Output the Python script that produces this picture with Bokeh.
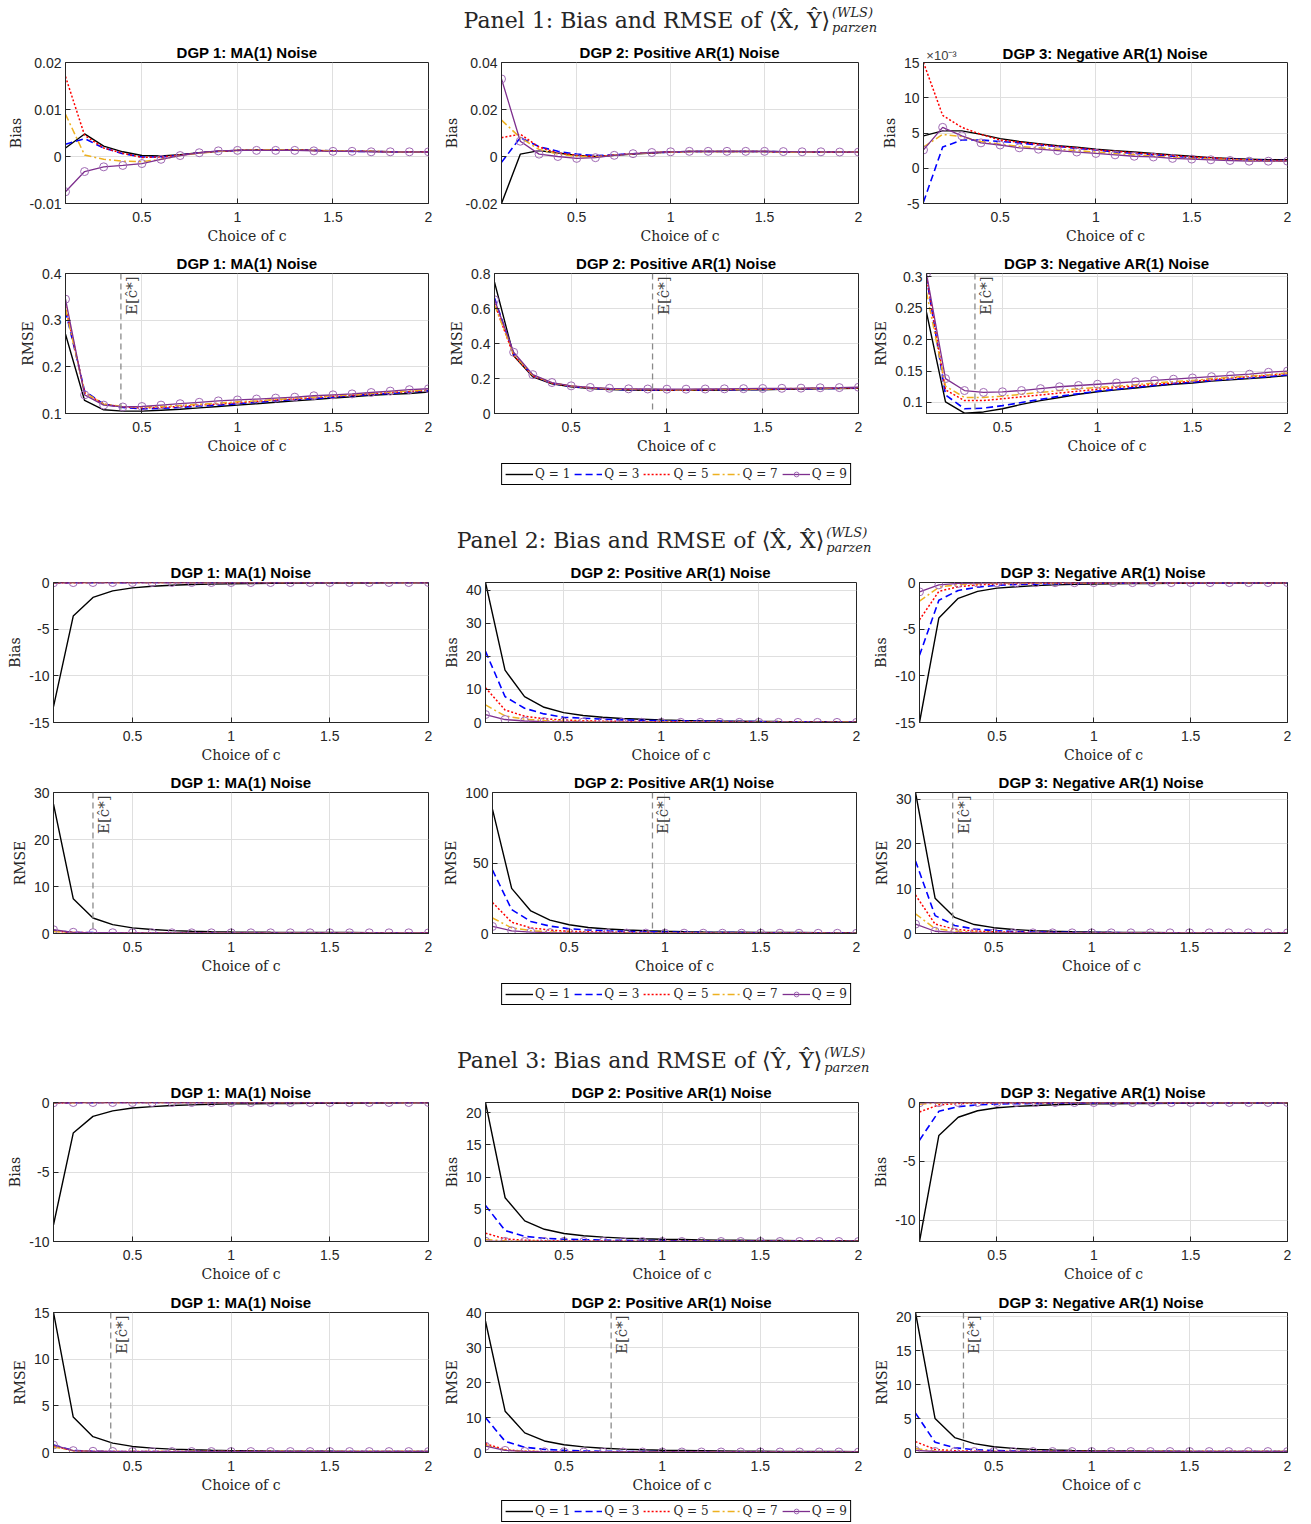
from math import pi
from bokeh.plotting import figure
from bokeh.layouts import column, row
from bokeh.models import (Range1d, FixedTicker, CustomJSTickFormatter, Span, Label,
                          Legend, LegendItem, LinearAxis)
from bokeh.embed import file_html
from bokeh.resources import INLINE

# ---------------- data ----------------
C = [0.1, 0.2, 0.3, 0.4, 0.5, 0.6, 0.7, 0.8, 0.9, 1.0,
     1.1, 1.2, 1.3, 1.4, 1.5, 1.6, 1.7, 1.8, 1.9, 2.0]
Q_LABELS = ["Q = 1", "Q = 3", "Q = 5", "Q = 7", "Q = 9"]
DGP_TITLES = ["DGP 1: MA(1) Noise", "DGP 2: Positive AR(1) Noise", "DGP 3: Negative AR(1) Noise"]

# Panel 1: <X,Y>
p1_bias_d1_q1 = [0.0018, 0.0048, 0.0022, 0.0010, 0.0002, 0.0001, 0.0004, 0.0008, 0.0011, 0.0013, 0.0014, 0.0014, 0.0014, 0.0013, 0.0012, 0.0011, 0.0011, 0.0010, 0.0010, 0.0010]
p1_bias_d1_q3 = [0.0026, 0.0038, 0.0018, 0.0006, -0.0001, -0.0001, 0.0003, 0.0008, 0.0011, 0.0013, 0.0014, 0.0014, 0.0014, 0.0013, 0.0012, 0.0011, 0.0011, 0.0010, 0.0010, 0.0010]
p1_bias_d1_q5 = [0.0170, 0.0045, 0.0018, 0.0007, -0.0002, -0.0001, 0.0003, 0.0008, 0.0011, 0.0013, 0.0014, 0.0014, 0.0014, 0.0013, 0.0012, 0.0011, 0.0011, 0.0010, 0.0010, 0.0010]
p1_bias_d1_q7 = [0.0090, 0.0003, -0.0006, -0.0010, -0.0011, -0.0006, 0.0002, 0.0007, 0.0011, 0.0013, 0.0014, 0.0014, 0.0014, 0.0013, 0.0012, 0.0011, 0.0011, 0.0010, 0.0010, 0.0010]
p1_bias_d1_q9 = [-0.0075, -0.0032, -0.0022, -0.0019, -0.0015, -0.0006, 0.0002, 0.0008, 0.0012, 0.0013, 0.0013, 0.0013, 0.0013, 0.0012, 0.0011, 0.0011, 0.0010, 0.0010, 0.0010, 0.0010]

p1_bias_d2_q1 = [-0.0200, 0.0010, 0.0025, 0.0015, 0.0005, 0.0000, 0.0005, 0.0010, 0.0015, 0.0019, 0.0021, 0.0021, 0.0021, 0.0021, 0.0021, 0.0020, 0.0019, 0.0019, 0.0018, 0.0018]
p1_bias_d2_q3 = [-0.0025, 0.0080, 0.0042, 0.0022, 0.0010, 0.0004, 0.0007, 0.0012, 0.0016, 0.0019, 0.0021, 0.0021, 0.0021, 0.0021, 0.0021, 0.0020, 0.0019, 0.0019, 0.0018, 0.0018]
p1_bias_d2_q5 = [0.0080, 0.0095, 0.0040, 0.0015, 0.0005, 0.0000, 0.0006, 0.0012, 0.0016, 0.0019, 0.0021, 0.0021, 0.0021, 0.0021, 0.0021, 0.0020, 0.0019, 0.0019, 0.0018, 0.0018]
p1_bias_d2_q7 = [0.0155, 0.0080, 0.0030, 0.0010, 0.0000, -0.0002, 0.0005, 0.0011, 0.0016, 0.0019, 0.0021, 0.0021, 0.0021, 0.0021, 0.0021, 0.0020, 0.0019, 0.0019, 0.0018, 0.0018]
p1_bias_d2_q9 = [0.0330, 0.0065, 0.0010, 0.0000, -0.0008, -0.0005, 0.0005, 0.0012, 0.0017, 0.0020, 0.0022, 0.0022, 0.0022, 0.0022, 0.0022, 0.0021, 0.0020, 0.0020, 0.0019, 0.0019]

p1_bias_d3_q1 = [0.0046, 0.0053, 0.0053, 0.0048, 0.0042, 0.0038, 0.0035, 0.0032, 0.0030, 0.0027, 0.0025, 0.0023, 0.0021, 0.0019, 0.0017, 0.0015, 0.0014, 0.0013, 0.0012, 0.0012]
p1_bias_d3_q3 = [-0.0048, 0.0030, 0.0040, 0.0040, 0.0038, 0.0036, 0.0033, 0.0031, 0.0028, 0.0026, 0.0023, 0.0021, 0.0019, 0.0017, 0.0015, 0.0014, 0.0013, 0.0012, 0.0011, 0.0011]
p1_bias_d3_q5 = [0.0150, 0.0075, 0.0058, 0.0048, 0.0040, 0.0037, 0.0034, 0.0031, 0.0029, 0.0026, 0.0024, 0.0022, 0.0020, 0.0018, 0.0016, 0.0015, 0.0013, 0.0012, 0.0011, 0.0011]
p1_bias_d3_q7 = [0.0030, 0.0048, 0.0045, 0.0038, 0.0034, 0.0031, 0.0029, 0.0027, 0.0025, 0.0023, 0.0021, 0.0019, 0.0017, 0.0015, 0.0014, 0.0013, 0.0012, 0.0011, 0.0010, 0.0010]
p1_bias_d3_q9 = [0.0026, 0.0058, 0.0046, 0.0036, 0.0033, 0.0029, 0.0027, 0.0025, 0.0023, 0.0021, 0.0019, 0.0017, 0.0016, 0.0014, 0.0013, 0.0012, 0.0011, 0.0010, 0.0010, 0.0010]

p1_rmse_d1_q1 = [0.270, 0.128, 0.108, 0.105, 0.105, 0.107, 0.109, 0.112, 0.115, 0.118, 0.121, 0.124, 0.127, 0.130, 0.133, 0.136, 0.139, 0.141, 0.143, 0.146]
p1_rmse_d1_q3 = [0.320, 0.148, 0.120, 0.113, 0.110, 0.111, 0.113, 0.116, 0.118, 0.121, 0.124, 0.127, 0.130, 0.132, 0.135, 0.138, 0.141, 0.143, 0.146, 0.149]
p1_rmse_d1_q5 = [0.330, 0.145, 0.120, 0.114, 0.112, 0.113, 0.115, 0.118, 0.120, 0.123, 0.126, 0.129, 0.131, 0.134, 0.137, 0.139, 0.142, 0.145, 0.147, 0.150]
p1_rmse_d1_q7 = [0.325, 0.145, 0.120, 0.115, 0.114, 0.115, 0.117, 0.120, 0.122, 0.125, 0.127, 0.130, 0.133, 0.135, 0.138, 0.140, 0.143, 0.146, 0.148, 0.151]
p1_rmse_d1_q9 = [0.345, 0.140, 0.118, 0.114, 0.115, 0.118, 0.121, 0.124, 0.127, 0.129, 0.131, 0.133, 0.135, 0.138, 0.140, 0.142, 0.145, 0.148, 0.151, 0.153]

p1_rmse_d2_q1 = [0.750, 0.330, 0.210, 0.170, 0.152, 0.142, 0.137, 0.134, 0.133, 0.132, 0.132, 0.133, 0.134, 0.135, 0.136, 0.138, 0.139, 0.141, 0.142, 0.144]
p1_rmse_d2_q3 = [0.660, 0.340, 0.215, 0.172, 0.155, 0.145, 0.139, 0.136, 0.135, 0.134, 0.134, 0.135, 0.136, 0.137, 0.138, 0.140, 0.141, 0.143, 0.144, 0.146]
p1_rmse_d2_q5 = [0.630, 0.330, 0.215, 0.173, 0.156, 0.146, 0.140, 0.137, 0.136, 0.135, 0.135, 0.136, 0.137, 0.138, 0.139, 0.141, 0.142, 0.144, 0.145, 0.147]
p1_rmse_d2_q7 = [0.620, 0.340, 0.218, 0.175, 0.157, 0.147, 0.141, 0.138, 0.137, 0.136, 0.136, 0.137, 0.138, 0.139, 0.140, 0.142, 0.143, 0.145, 0.146, 0.148]
p1_rmse_d2_q9 = [0.650, 0.350, 0.222, 0.177, 0.158, 0.149, 0.144, 0.141, 0.140, 0.139, 0.139, 0.140, 0.141, 0.142, 0.143, 0.144, 0.145, 0.147, 0.148, 0.150]

p1_rmse_d3_q1 = [0.243, 0.101, 0.083, 0.085, 0.090, 0.097, 0.103, 0.108, 0.113, 0.117, 0.120, 0.123, 0.126, 0.129, 0.131, 0.134, 0.136, 0.138, 0.140, 0.143]
p1_rmse_d3_q3 = [0.300, 0.112, 0.090, 0.091, 0.095, 0.100, 0.105, 0.110, 0.114, 0.118, 0.121, 0.124, 0.127, 0.130, 0.132, 0.135, 0.137, 0.139, 0.141, 0.144]
p1_rmse_d3_q5 = [0.300, 0.120, 0.103, 0.103, 0.106, 0.109, 0.112, 0.115, 0.118, 0.121, 0.124, 0.126, 0.129, 0.131, 0.134, 0.136, 0.139, 0.141, 0.143, 0.146]
p1_rmse_d3_q7 = [0.275, 0.126, 0.108, 0.108, 0.110, 0.113, 0.116, 0.119, 0.122, 0.124, 0.126, 0.128, 0.131, 0.133, 0.135, 0.138, 0.140, 0.142, 0.144, 0.147]
p1_rmse_d3_q9 = [0.305, 0.138, 0.119, 0.116, 0.117, 0.119, 0.122, 0.125, 0.127, 0.129, 0.131, 0.133, 0.135, 0.137, 0.139, 0.141, 0.143, 0.145, 0.148, 0.150]

# Panel 2: <X,X>
p2_bias_d1_q1 = [-13.3, -3.6, -1.6, -0.9, -0.58, -0.40, -0.30, -0.22, -0.17, -0.13, -0.11, -0.09, -0.08, -0.07, -0.06, -0.05, -0.05, -0.04, -0.04, -0.03]
p2_bias_d1_q3 = [-0.08, -0.03, -0.02, -0.01, -0.01, 0.0, 0.0, 0.0, 0.0, 0.0, 0.0, 0.0, 0.0, 0.0, 0.0, 0.0, 0.0, 0.0, 0.0, 0.0]
p2_bias_d1_q5 = [-0.05, -0.02, -0.01, 0.0, 0.0, 0.0, 0.0, 0.0, 0.0, 0.0, 0.0, 0.0, 0.0, 0.0, 0.0, 0.0, 0.0, 0.0, 0.0, 0.0]
p2_bias_d1_q7 = [-0.04, -0.01, 0.0, 0.0, 0.0, 0.0, 0.0, 0.0, 0.0, 0.0, 0.0, 0.0, 0.0, 0.0, 0.0, 0.0, 0.0, 0.0, 0.0, 0.0]
p2_bias_d1_q9 = [-0.03, -0.01, 0.0, 0.0, 0.0, 0.0, 0.0, 0.0, 0.0, 0.0, 0.0, 0.0, 0.0, 0.0, 0.0, 0.0, 0.0, 0.0, 0.0, 0.0]

p2_bias_d2_q1 = [42.3, 15.8, 7.8, 4.6, 3.0, 2.1, 1.6, 1.2, 1.0, 0.8, 0.65, 0.55, 0.47, 0.40, 0.35, 0.30, 0.27, 0.24, 0.21, 0.19]
p2_bias_d2_q3 = [21.5, 7.8, 4.3, 2.6, 1.6, 1.3, 1.0, 0.8, 0.65, 0.55, 0.45, 0.38, 0.33, 0.29, 0.25, 0.22, 0.20, 0.18, 0.16, 0.15]
p2_bias_d2_q5 = [10.5, 3.8, 1.9, 1.1, 0.75, 0.55, 0.42, 0.33, 0.27, 0.22, 0.19, 0.16, 0.14, 0.12, 0.11, 0.10, 0.09, 0.09, 0.08, 0.08]
p2_bias_d2_q7 = [5.3, 2.0, 1.0, 0.6, 0.40, 0.30, 0.23, 0.18, 0.15, 0.12, 0.10, 0.09, 0.08, 0.07, 0.06, 0.06, 0.05, 0.05, 0.05, 0.05]
p2_bias_d2_q9 = [2.4, 0.9, 0.45, 0.28, 0.20, 0.15, 0.11, 0.09, 0.07, 0.06, 0.05, 0.05, 0.04, 0.04, 0.04, 0.03, 0.03, 0.03, 0.03, 0.03]

p2_bias_d3_q1 = [-15.0, -3.8, -1.7, -0.95, -0.60, -0.45, -0.33, -0.25, -0.20, -0.16, -0.13, -0.11, -0.10, -0.09, -0.08, -0.07, -0.06, -0.06, -0.05, -0.05]
p2_bias_d3_q3 = [-7.8, -1.9, -0.85, -0.50, -0.30, -0.22, -0.17, -0.13, -0.10, -0.08, -0.07, -0.06, -0.05, -0.05, -0.04, -0.04, -0.04, -0.03, -0.03, -0.03]
p2_bias_d3_q5 = [-4.0, -0.95, -0.45, -0.25, -0.16, -0.12, -0.09, -0.07, -0.06, -0.05, -0.04, -0.04, -0.03, -0.03, -0.03, -0.02, -0.02, -0.02, -0.02, -0.02]
p2_bias_d3_q7 = [-2.0, -0.50, -0.22, -0.13, -0.08, -0.06, -0.05, -0.04, -0.03, -0.03, -0.02, -0.02, -0.02, -0.02, -0.01, -0.01, -0.01, -0.01, -0.01, -0.01]
p2_bias_d3_q9 = [-1.0, -0.25, -0.10, -0.06, -0.04, -0.03, -0.02, -0.02, -0.02, -0.01, -0.01, -0.01, -0.01, -0.01, -0.01, -0.01, -0.01, -0.01, -0.01, -0.01]

p2_rmse_d1_q1 = [27.5, 7.4, 3.3, 1.9, 1.2, 0.85, 0.62, 0.48, 0.40, 0.34, 0.30, 0.27, 0.25, 0.23, 0.21, 0.20, 0.19, 0.18, 0.17, 0.16]
p2_rmse_d1_q3 = [0.60, 0.25, 0.18, 0.16, 0.15, 0.15, 0.14, 0.14, 0.14, 0.14, 0.14, 0.14, 0.14, 0.14, 0.14, 0.14, 0.14, 0.14, 0.14, 0.14]
p2_rmse_d1_q5 = [0.50, 0.22, 0.17, 0.15, 0.15, 0.14, 0.14, 0.14, 0.14, 0.14, 0.14, 0.14, 0.14, 0.14, 0.14, 0.14, 0.14, 0.14, 0.14, 0.14]
p2_rmse_d1_q7 = [0.45, 0.21, 0.16, 0.15, 0.14, 0.14, 0.14, 0.14, 0.14, 0.14, 0.14, 0.14, 0.14, 0.14, 0.14, 0.14, 0.14, 0.14, 0.14, 0.14]
p2_rmse_d1_q9 = [0.80, 0.26, 0.18, 0.16, 0.15, 0.15, 0.14, 0.14, 0.14, 0.14, 0.14, 0.14, 0.14, 0.14, 0.14, 0.14, 0.14, 0.14, 0.14, 0.14]

p2_rmse_d2_q1 = [88.0, 32.0, 16.0, 9.5, 6.2, 4.3, 3.2, 2.5, 2.0, 1.6, 1.35, 1.15, 1.0, 0.9, 0.8, 0.72, 0.66, 0.60, 0.55, 0.50]
p2_rmse_d2_q3 = [45.0, 17.0, 8.5, 5.2, 3.4, 2.5, 1.9, 1.5, 1.2, 1.0, 0.85, 0.75, 0.66, 0.59, 0.53, 0.48, 0.44, 0.40, 0.37, 0.35]
p2_rmse_d2_q5 = [22.0, 8.0, 4.0, 2.4, 1.6, 1.2, 0.95, 0.78, 0.65, 0.56, 0.49, 0.44, 0.40, 0.36, 0.33, 0.31, 0.29, 0.27, 0.26, 0.25]
p2_rmse_d2_q7 = [11.0, 4.0, 2.0, 1.2, 0.85, 0.66, 0.54, 0.46, 0.40, 0.36, 0.33, 0.30, 0.28, 0.26, 0.25, 0.24, 0.23, 0.22, 0.21, 0.20]
p2_rmse_d2_q9 = [5.0, 1.9, 1.0, 0.65, 0.50, 0.41, 0.35, 0.31, 0.28, 0.26, 0.24, 0.22, 0.21, 0.20, 0.19, 0.18, 0.17, 0.16, 0.16, 0.15]

p2_rmse_d3_q1 = [31.5, 7.9, 3.6, 2.0, 1.3, 0.90, 0.65, 0.50, 0.40, 0.33, 0.28, 0.25, 0.22, 0.20, 0.19, 0.18, 0.17, 0.16, 0.16, 0.15]
p2_rmse_d3_q3 = [16.2, 4.0, 1.8, 1.0, 0.65, 0.46, 0.35, 0.28, 0.24, 0.21, 0.19, 0.18, 0.17, 0.16, 0.16, 0.15, 0.15, 0.15, 0.14, 0.14]
p2_rmse_d3_q5 = [8.6, 2.1, 0.95, 0.55, 0.37, 0.28, 0.23, 0.20, 0.18, 0.17, 0.16, 0.16, 0.15, 0.15, 0.15, 0.14, 0.14, 0.14, 0.14, 0.14]
p2_rmse_d3_q7 = [4.4, 1.1, 0.50, 0.30, 0.22, 0.18, 0.16, 0.15, 0.15, 0.14, 0.14, 0.14, 0.14, 0.14, 0.14, 0.14, 0.14, 0.14, 0.14, 0.14]
p2_rmse_d3_q9 = [2.1, 0.50, 0.25, 0.18, 0.16, 0.15, 0.14, 0.14, 0.14, 0.14, 0.14, 0.14, 0.14, 0.14, 0.14, 0.14, 0.14, 0.14, 0.14, 0.14]

# Panel 3: <Y,Y>
p3_bias_d1_q1 = [-8.8, -2.2, -1.0, -0.6, -0.40, -0.30, -0.22, -0.17, -0.13, -0.10, -0.09, -0.08, -0.07, -0.06, -0.05, -0.05, -0.04, -0.04, -0.03, -0.03]
p3_bias_d1_q3 = [-0.05, -0.02, -0.01, 0.0, 0.0, 0.0, 0.0, 0.0, 0.0, 0.0, 0.0, 0.0, 0.0, 0.0, 0.0, 0.0, 0.0, 0.0, 0.0, 0.0]
p3_bias_d1_q5 = [-0.04, -0.01, 0.0, 0.0, 0.0, 0.0, 0.0, 0.0, 0.0, 0.0, 0.0, 0.0, 0.0, 0.0, 0.0, 0.0, 0.0, 0.0, 0.0, 0.0]
p3_bias_d1_q7 = [-0.03, -0.01, 0.0, 0.0, 0.0, 0.0, 0.0, 0.0, 0.0, 0.0, 0.0, 0.0, 0.0, 0.0, 0.0, 0.0, 0.0, 0.0, 0.0, 0.0]
p3_bias_d1_q9 = [-0.02, 0.0, 0.0, 0.0, 0.0, 0.0, 0.0, 0.0, 0.0, 0.0, 0.0, 0.0, 0.0, 0.0, 0.0, 0.0, 0.0, 0.0, 0.0, 0.0]

p3_bias_d2_q1 = [21.6, 6.8, 3.2, 1.9, 1.25, 0.90, 0.68, 0.53, 0.43, 0.35, 0.30, 0.26, 0.22, 0.19, 0.17, 0.15, 0.13, 0.12, 0.11, 0.10]
p3_bias_d2_q3 = [5.6, 1.7, 0.80, 0.50, 0.35, 0.28, 0.22, 0.18, 0.15, 0.13, 0.11, 0.10, 0.09, 0.08, 0.07, 0.07, 0.06, 0.06, 0.05, 0.05]
p3_bias_d2_q5 = [1.3, 0.40, 0.20, 0.12, 0.09, 0.07, 0.06, 0.05, 0.04, 0.04, 0.03, 0.03, 0.03, 0.02, 0.02, 0.02, 0.02, 0.02, 0.02, 0.02]
p3_bias_d2_q7 = [0.30, 0.10, 0.05, 0.03, 0.02, 0.02, 0.01, 0.01, 0.01, 0.01, 0.01, 0.01, 0.01, 0.01, 0.01, 0.01, 0.01, 0.01, 0.01, 0.01]
p3_bias_d2_q9 = [0.05, 0.02, 0.01, 0.0, 0.0, 0.0, 0.0, 0.0, 0.0, 0.0, 0.0, 0.0, 0.0, 0.0, 0.0, 0.0, 0.0, 0.0, 0.0, 0.0]

p3_bias_d3_q1 = [-11.8, -2.8, -1.25, -0.70, -0.45, -0.33, -0.25, -0.19, -0.15, -0.12, -0.10, -0.09, -0.08, -0.07, -0.06, -0.05, -0.05, -0.04, -0.04, -0.04]
p3_bias_d3_q3 = [-3.2, -0.75, -0.35, -0.20, -0.13, -0.10, -0.08, -0.06, -0.05, -0.04, -0.04, -0.03, -0.03, -0.03, -0.02, -0.02, -0.02, -0.02, -0.02, -0.02]
p3_bias_d3_q5 = [-0.80, -0.20, -0.09, -0.05, -0.03, -0.02, -0.02, -0.01, -0.01, -0.01, -0.01, -0.01, -0.01, -0.01, -0.01, -0.01, -0.01, -0.01, -0.01, -0.01]
p3_bias_d3_q7 = [-0.15, -0.04, -0.02, -0.01, -0.01, 0.0, 0.0, 0.0, 0.0, 0.0, 0.0, 0.0, 0.0, 0.0, 0.0, 0.0, 0.0, 0.0, 0.0, 0.0]
p3_bias_d3_q9 = [-0.02, -0.01, 0.0, 0.0, 0.0, 0.0, 0.0, 0.0, 0.0, 0.0, 0.0, 0.0, 0.0, 0.0, 0.0, 0.0, 0.0, 0.0, 0.0, 0.0]

p3_rmse_d1_q1 = [15.0, 3.8, 1.7, 1.0, 0.65, 0.47, 0.36, 0.29, 0.24, 0.20, 0.18, 0.16, 0.15, 0.14, 0.13, 0.12, 0.12, 0.11, 0.11, 0.10]
p3_rmse_d1_q3 = [0.80, 0.22, 0.13, 0.11, 0.10, 0.10, 0.10, 0.10, 0.10, 0.10, 0.10, 0.10, 0.10, 0.10, 0.10, 0.10, 0.10, 0.10, 0.10, 0.10]
p3_rmse_d1_q5 = [0.70, 0.20, 0.12, 0.11, 0.10, 0.10, 0.10, 0.10, 0.10, 0.10, 0.10, 0.10, 0.10, 0.10, 0.10, 0.10, 0.10, 0.10, 0.10, 0.10]
p3_rmse_d1_q7 = [0.60, 0.18, 0.12, 0.10, 0.10, 0.10, 0.10, 0.10, 0.10, 0.10, 0.10, 0.10, 0.10, 0.10, 0.10, 0.10, 0.10, 0.10, 0.10, 0.10]
p3_rmse_d1_q9 = [0.80, 0.20, 0.13, 0.11, 0.10, 0.10, 0.10, 0.10, 0.10, 0.10, 0.10, 0.10, 0.10, 0.10, 0.10, 0.10, 0.10, 0.10, 0.10, 0.10]

p3_rmse_d2_q1 = [37.5, 11.8, 5.6, 3.3, 2.2, 1.6, 1.2, 0.95, 0.78, 0.65, 0.56, 0.49, 0.44, 0.40, 0.36, 0.33, 0.31, 0.29, 0.27, 0.26]
p3_rmse_d2_q3 = [10.0, 3.2, 1.5, 0.90, 0.60, 0.45, 0.36, 0.30, 0.26, 0.23, 0.21, 0.20, 0.19, 0.18, 0.17, 0.17, 0.16, 0.16, 0.16, 0.15]
p3_rmse_d2_q5 = [2.5, 0.80, 0.40, 0.25, 0.19, 0.16, 0.15, 0.14, 0.14, 0.14, 0.14, 0.14, 0.14, 0.14, 0.14, 0.14, 0.14, 0.14, 0.14, 0.14]
p3_rmse_d2_q7 = [2.0, 0.70, 0.35, 0.22, 0.17, 0.15, 0.14, 0.14, 0.14, 0.14, 0.14, 0.14, 0.14, 0.14, 0.14, 0.14, 0.14, 0.14, 0.14, 0.14]
p3_rmse_d2_q9 = [1.8, 0.60, 0.30, 0.20, 0.16, 0.14, 0.14, 0.14, 0.14, 0.14, 0.14, 0.14, 0.14, 0.14, 0.14, 0.14, 0.14, 0.14, 0.14, 0.14]

p3_rmse_d3_q1 = [20.6, 5.0, 2.2, 1.3, 0.85, 0.60, 0.46, 0.37, 0.30, 0.26, 0.23, 0.21, 0.19, 0.18, 0.17, 0.16, 0.15, 0.15, 0.14, 0.14]
p3_rmse_d3_q3 = [5.8, 1.5, 0.70, 0.42, 0.29, 0.23, 0.19, 0.17, 0.16, 0.15, 0.14, 0.14, 0.14, 0.14, 0.14, 0.14, 0.14, 0.14, 0.14, 0.14]
p3_rmse_d3_q5 = [1.6, 0.45, 0.25, 0.18, 0.15, 0.14, 0.14, 0.14, 0.14, 0.14, 0.14, 0.14, 0.14, 0.14, 0.14, 0.14, 0.14, 0.14, 0.14, 0.14]
p3_rmse_d3_q7 = [0.60, 0.20, 0.15, 0.14, 0.14, 0.14, 0.14, 0.14, 0.14, 0.14, 0.14, 0.14, 0.14, 0.14, 0.14, 0.14, 0.14, 0.14, 0.14, 0.14]
p3_rmse_d3_q9 = [0.30, 0.15, 0.14, 0.14, 0.14, 0.14, 0.14, 0.14, 0.14, 0.14, 0.14, 0.14, 0.14, 0.14, 0.14, 0.14, 0.14, 0.14, 0.14, 0.14]

# expected optimal c (vertical marker) for RMSE plots
EC_P1 = [0.39, 0.925, 0.355]
EC_P2 = [0.30, 0.935, 0.29]
EC_P3 = [0.39, 0.74, 0.345]

# ---------------- styling ----------------
STYLES = [
    dict(color="#000000", dash="solid", width=1.4),
    dict(color="#0000FF", dash="7 4", width=1.6),
    dict(color="#FF0000", dash="2 2", width=1.5),
    dict(color="#EDB120", dash="7 3 2 3", width=1.5),
    dict(color="#7E2F8E", dash="solid", width=1.3),
]
MARKER_COLOR = "#A06AB4"
TICK_FONT = "Liberation Sans"
SERIF = "DejaVu Serif"
TXT = "#262626"

JS_FMT = "const v = Math.round(tick*1e6)/1e6; return v.toString();"
JS_FMT_E3 = "return Math.round(tick*1000).toString();"


def style_title(p, standoff=3):
    p.title.text_font = TICK_FONT
    p.title.text_font_style = "bold"
    p.title.text_font_size = "15px"
    p.title.text_color = "black"
    p.title.align = "center"
    p.title.standoff = standoff


def make_plot(title, ylabel, series, yrange, yticks, width, height, bl, br, bt, bb,
              ec=None, e3=False):
    p = figure(width=width, height=height, output_backend="svg", toolbar_location=None,
               x_range=Range1d(0.1, 2.0), y_range=Range1d(*yrange),
               title=None if e3 else title,
               min_border_left=bl, min_border_right=br, min_border_top=bt, min_border_bottom=bb,
               background_fill_color="white", border_fill_color="white")
    if not e3:
        style_title(p)
    p.outline_line_color = TXT
    p.outline_line_width = 1
    for ax in (p.xaxis[0], p.yaxis[0]):
        ax.axis_line_color = TXT
        ax.major_tick_in = 5
        ax.major_tick_out = 0
        ax.minor_tick_line_color = None
        ax.major_tick_line_color = TXT
        ax.major_label_text_font = TICK_FONT
        ax.major_label_text_font_size = "14px"
        ax.major_label_text_color = TXT
        ax.axis_label_text_font = SERIF
        ax.axis_label_text_font_size = "14px"
        ax.axis_label_text_font_style = "normal"
        ax.axis_label_text_color = TXT
    p.xaxis.ticker = FixedTicker(ticks=[0.5, 1.0, 1.5, 2.0])
    p.xaxis.formatter = CustomJSTickFormatter(code=JS_FMT)
    p.xaxis.axis_label = "Choice of c"
    p.xaxis.major_label_standoff = 8
    p.xaxis.axis_label_standoff = 3
    p.yaxis.ticker = FixedTicker(ticks=yticks)
    p.yaxis.formatter = CustomJSTickFormatter(code=JS_FMT_E3 if e3 else JS_FMT)
    p.yaxis.axis_label = ylabel
    p.yaxis.major_label_standoff = 4
    p.yaxis.axis_label_standoff = 3
    p.grid.grid_line_color = "#dfdfdf"
    p.grid.grid_line_width = 1

    if e3:
        # exponent marker (x10^-3) above the top-left corner, sharing its row with the title
        top = LinearAxis(ticker=FixedTicker(ticks=[0.194]),
                         formatter=CustomJSTickFormatter(code='return "×10⁻³";'))
        top.axis_line_color = None
        top.major_tick_line_color = None
        top.minor_tick_line_color = None
        top.major_label_text_font = TICK_FONT
        top.major_label_text_font_size = "13px"
        top.major_label_text_color = "#404040"
        top.major_label_standoff = -6
        top.axis_label = title
        top.axis_label_text_font = TICK_FONT
        top.axis_label_text_font_style = "bold"
        top.axis_label_text_font_size = "15px"
        top.axis_label_text_color = "black"
        top.axis_label_standoff = -17
        p.add_layout(top, "above")

    if ec is not None:
        p.add_layout(Span(location=ec, dimension="height", line_color="#8a8a8a",
                          line_dash="6 4", line_width=1.3))
        p.add_layout(Label(x=ec, y=yrange[1], text="E[ĉ*]", angle=pi / 2,
                           text_align="right", text_baseline="top", x_offset=2, y_offset=-3,
                           text_font=SERIF, text_font_size="15px", text_color="#404040"))

    for i, (ys, st) in enumerate(zip(series, STYLES)):
        p.line(C, ys, line_color=st["color"], line_dash=st["dash"], line_width=st["width"])
        if i == 4:
            p.scatter(C, ys, marker="circle", size=8, fill_alpha=0,
                      line_color=MARKER_COLOR, line_width=1)
    return p


def title_fig(height, main, x_end, y):
    p = figure(width=1311, height=height, output_backend="svg", toolbar_location=None,
               x_range=Range1d(0, 1311), y_range=Range1d(0, height),
               min_border=0, border_fill_color="white", background_fill_color="white")
    p.axis.visible = False
    p.grid.visible = False
    p.outline_line_color = None
    p.add_layout(Label(x=x_end, y=y, text=main, text_align="right", text_baseline="middle",
                       text_font=SERIF, text_font_size="22px", text_color=TXT))
    p.add_layout(Label(x=x_end + 2, y=y + 8, text="(WLS)", text_align="left",
                       text_baseline="middle", text_font=SERIF, text_font_style="italic",
                       text_font_size="13px", text_color=TXT))
    p.add_layout(Label(x=x_end + 2, y=y - 7, text="parzen", text_align="left",
                       text_baseline="middle", text_font=SERIF, text_font_style="italic",
                       text_font_size="13px", text_color=TXT))
    return p


def legend_fig(height):
    p = figure(width=1311, height=height, output_backend="svg", toolbar_location=None,
               x_range=Range1d(0, 1), y_range=Range1d(0, 1),
               min_border_left=41, min_border_right=0, min_border_top=0, min_border_bottom=0,
               border_fill_color="white", background_fill_color="white")
    p.axis.visible = False
    p.grid.visible = False
    p.outline_line_color = None
    items = []
    # legend-only proxy renderers, kept outside the visible range
    for i, (lab, st) in enumerate(zip(Q_LABELS, STYLES)):
        r = p.line([5, 6], [5, 5], line_color=st["color"], line_dash=st["dash"],
                   line_width=st["width"])
        rs = [r]
        if i == 4:
            rs.append(p.scatter([5, 6], [5, 5], marker="circle", size=8, fill_alpha=0,
                                line_color=MARKER_COLOR, line_width=1))
        items.append(LegendItem(label=lab, renderers=rs))
    leg = Legend(items=items, orientation="horizontal", location="center",
                 border_line_color="black", border_line_width=1, border_line_alpha=1,
                 label_text_font=SERIF, label_text_font_size="12px", label_text_color=TXT,
                 label_standoff=2, glyph_width=28, glyph_height=12, label_height=12,
                 spacing=4, padding=3, margin=0, background_fill_alpha=1)
    p.add_layout(leg, "center")
    return p


# ---------------- assemble ----------------
PANELS = [
    dict(main="Panel 1: Bias and RMSE of ⟨X̂, Ŷ⟩", x_end=814, th=40, ty=20,
         bias=[[p1_bias_d1_q1, p1_bias_d1_q3, p1_bias_d1_q5, p1_bias_d1_q7, p1_bias_d1_q9],
               [p1_bias_d2_q1, p1_bias_d2_q3, p1_bias_d2_q5, p1_bias_d2_q7, p1_bias_d2_q9],
               [p1_bias_d3_q1, p1_bias_d3_q3, p1_bias_d3_q5, p1_bias_d3_q7, p1_bias_d3_q9]],
         rmse=[[p1_rmse_d1_q1, p1_rmse_d1_q3, p1_rmse_d1_q5, p1_rmse_d1_q7, p1_rmse_d1_q9],
               [p1_rmse_d2_q1, p1_rmse_d2_q3, p1_rmse_d2_q5, p1_rmse_d2_q7, p1_rmse_d2_q9],
               [p1_rmse_d3_q1, p1_rmse_d3_q3, p1_rmse_d3_q5, p1_rmse_d3_q7, p1_rmse_d3_q9]],
         bias_rng=[(-0.01, 0.02), (-0.02, 0.04), (-0.005, 0.015)],
         bias_ticks=[[-0.01, 0, 0.01, 0.02], [-0.02, 0, 0.02, 0.04], [-0.005, 0, 0.005, 0.01, 0.015]],
         rmse_rng=[(0.1, 0.4), (0.0, 0.8), (0.0825, 0.305)],
         rmse_ticks=[[0.1, 0.2, 0.3, 0.4], [0, 0.2, 0.4, 0.6, 0.8], [0.1, 0.15, 0.2, 0.25, 0.3]],
         ec=EC_P1, e3=[False, False, True],
         lefts=[65, 54, 53], rights=[12, 12, 24],
         bias_h=210, bias_bt=22, bias_bb=47, rmse_h=207, rmse_bt=23, rmse_bb=44, leg_h=33),
    dict(main="Panel 2: Bias and RMSE of ⟨X̂, X̂⟩", x_end=808, th=70, ty=20,
         bias=[[p2_bias_d1_q1, p2_bias_d1_q3, p2_bias_d1_q5, p2_bias_d1_q7, p2_bias_d1_q9],
               [p2_bias_d2_q1, p2_bias_d2_q3, p2_bias_d2_q5, p2_bias_d2_q7, p2_bias_d2_q9],
               [p2_bias_d3_q1, p2_bias_d3_q3, p2_bias_d3_q5, p2_bias_d3_q7, p2_bias_d3_q9]],
         rmse=[[p2_rmse_d1_q1, p2_rmse_d1_q3, p2_rmse_d1_q5, p2_rmse_d1_q7, p2_rmse_d1_q9],
               [p2_rmse_d2_q1, p2_rmse_d2_q3, p2_rmse_d2_q5, p2_rmse_d2_q7, p2_rmse_d2_q9],
               [p2_rmse_d3_q1, p2_rmse_d3_q3, p2_rmse_d3_q5, p2_rmse_d3_q7, p2_rmse_d3_q9]],
         bias_rng=[(-15, 0), (0, 42.3), (-15, 0)],
         bias_ticks=[[-15, -10, -5, 0], [0, 10, 20, 30, 40], [-15, -10, -5, 0]],
         rmse_rng=[(0, 30), (0, 100), (0, 31.5)],
         rmse_ticks=[[0, 10, 20, 30], [0, 50, 100], [0, 10, 20, 30]],
         ec=EC_P2, e3=[False, False, False],
         lefts=[53, 43, 43], rights=[12, 14, 24],
         bias_h=210, bias_bt=21, bias_bb=48, rmse_h=207, rmse_bt=22, rmse_bb=44, leg_h=33),
    dict(main="Panel 3: Bias and RMSE of ⟨Ŷ, Ŷ⟩", x_end=806, th=70, ty=20,
         bias=[[p3_bias_d1_q1, p3_bias_d1_q3, p3_bias_d1_q5, p3_bias_d1_q7, p3_bias_d1_q9],
               [p3_bias_d2_q1, p3_bias_d2_q3, p3_bias_d2_q5, p3_bias_d2_q7, p3_bias_d2_q9],
               [p3_bias_d3_q1, p3_bias_d3_q3, p3_bias_d3_q5, p3_bias_d3_q7, p3_bias_d3_q9]],
         rmse=[[p3_rmse_d1_q1, p3_rmse_d1_q3, p3_rmse_d1_q5, p3_rmse_d1_q7, p3_rmse_d1_q9],
               [p3_rmse_d2_q1, p3_rmse_d2_q3, p3_rmse_d2_q5, p3_rmse_d2_q7, p3_rmse_d2_q9],
               [p3_rmse_d3_q1, p3_rmse_d3_q3, p3_rmse_d3_q5, p3_rmse_d3_q7, p3_rmse_d3_q9]],
         bias_rng=[(-10, 0), (0, 21.6), (-11.8, 0)],
         bias_ticks=[[-10, -5, 0], [0, 5, 10, 15, 20], [-10, -5, 0]],
         rmse_rng=[(0, 15), (0, 40), (0, 20.6)],
         rmse_ticks=[[0, 5, 10, 15], [0, 10, 20, 30, 40], [0, 5, 10, 15, 20]],
         ec=EC_P3, e3=[False, False, False],
         lefts=[53, 42, 42], rights=[12, 12, 24],
         bias_h=210, bias_bt=21, bias_bb=49, rmse_h=207, rmse_bt=21, rmse_bb=45, leg_h=27),
]
COL_W = [440, 430, 441]

children = []
for pn in PANELS:
    children.append(title_fig(pn["th"], pn["main"], pn["x_end"], pn["ty"]))
    brow, rrow = [], []
    for j in range(3):
        brow.append(make_plot(DGP_TITLES[j], "Bias", pn["bias"][j], pn["bias_rng"][j],
                              pn["bias_ticks"][j], COL_W[j], pn["bias_h"],
                              pn["lefts"][j], pn["rights"][j], pn["bias_bt"], pn["bias_bb"],
                              e3=pn["e3"][j]))
        rrow.append(make_plot(DGP_TITLES[j], "RMSE", pn["rmse"][j], pn["rmse_rng"][j],
                              pn["rmse_ticks"][j], COL_W[j], pn["rmse_h"],
                              pn["lefts"][j], pn["rights"][j], pn["rmse_bt"], pn["rmse_bb"],
                              ec=pn["ec"][j]))
    children.append(row(brow, spacing=0))
    children.append(row(rrow, spacing=0))
    children.append(legend_fig(pn["leg_h"]))

layout = column(children, spacing=0)
open("out.html", "w").write(file_html(layout, INLINE))
